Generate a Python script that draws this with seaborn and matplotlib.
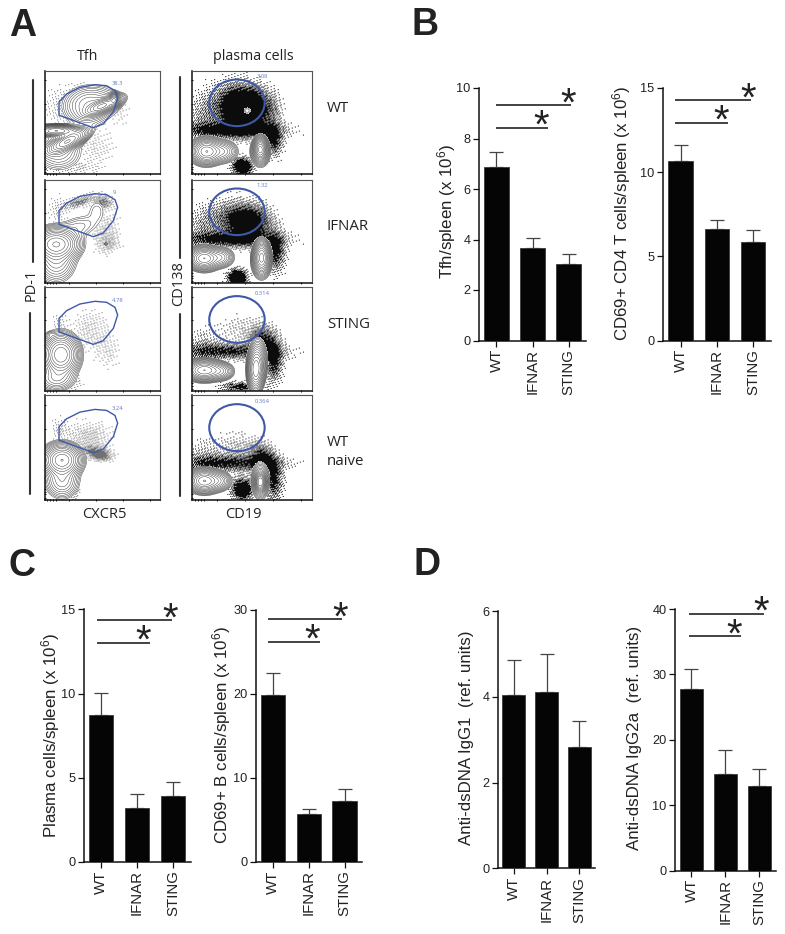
import numpy as np
import matplotlib
matplotlib.use('Agg')
import matplotlib.pyplot as plt
from matplotlib.patches import Ellipse, Polygon
import seaborn as sns

W, H = 785, 934

# bar panels: means and top of the error bar
groups = ['WT', 'IFNAR', 'STING']
tfh_mean = [6.87, 3.65, 3.03]
tfh_top = [7.48, 4.07, 3.41]
cd4_mean = [10.65, 6.63, 5.88]
cd4_top = [11.6, 7.13, 6.55]
plasma_mean = [8.73, 3.2, 3.93]
plasma_top = [10.05, 4.02, 4.72]
cd69b_mean = [19.85, 5.7, 7.3]
cd69b_top = [22.5, 6.3, 8.75]
igg1_mean = [4.05, 4.1, 2.83]
igg1_top = [4.85, 4.99, 3.43]
igg2a_mean = [27.8, 14.8, 13.0]
igg2a_top = [30.9, 18.4, 15.5]

# significance lines: y value of upper and lower line, start x, upper end, lower end
tfh_sig = [9.31, 8.42, 0.0, 2.06, 1.44]
cd4_sig = [14.3, 12.94, -0.15, 1.94, 1.31]
plasma_sig = [14.37, 13.0, -0.12, 1.98, 1.35]
cd69b_sig = [28.9, 26.2, -0.15, 1.94, 1.30]
igg2a_sig = [39.3, 35.8, -0.08, 2.13, 1.47]

# flow panels, in box units, as the picture shows them
# each blob: x, y, spread x, spread y, angle, weight
tfh_wt_c = [(.10, .42, .09, .025, 0, 1), (.20, .32, .09, .035, 30, 1), (.12, .22, .10, .09, 0, .12),
            (.50, .66, .08, .03, 25, 1), (.60, .72, .02, .03, 0, .8), (.36, .65, .10, .09, 0, .15), (.45, .70, .11, .08, 0, .1)]
tfh_wt_d = [(.25, .65, .18, .14, 0, .30), (.45, .25, .11, .11, 0, .2), (.20, .06, .18, .04, 0, .3), (.66, .60, .05, .10, 0, .15)]
tfh_if_c = [(.10, .38, .09, .07, 0, 1), (.10, .22, .08, .10, 0, .2), (.30, .55, .10, .06, 15, .05), (.45, .70, .05, .07, 0, .03),
            (.53, .38, .012, .012, 0, .04)]
tfh_if_d = [(.30, .78, .08, .03, 20, .9), (.50, .78, .05, .04, -20, .9), (.52, .50, .08, .14, 0, .3), (.12, .70, .06, .10, 0, .25), (.55, .38, .06, .06, 0, .3)]
tfh_st_c = [(.14, .35, .07, .09, 0, 1), (.10, .12, .08, .06, 0, .15), (.05, .55, .02, .015, 0, .03)]
tfh_st_d = [(.40, .58, .12, .14, 0, .25), (.55, .35, .07, .10, 0, .18), (.12, .65, .05, .06, 0, .2), (.25, .08, .05, .05, 0, .3)]
tfh_na_c = [(.15, .38, .075, .07, 0, 1), (.15, .18, .07, .08, 0, .2)]
tfh_na_d = [(.38, .60, .13, .10, 0, .35), (.44, .45, .08, .04, -15, .9), (.13, .68, .05, .08, 0, .25), (.25, .12, .03, .06, 0, .9), (.50, .42, .05, .03, 0, .6)]

pc_wt_c = [(.12, .22, .06, .055, 0, 1), (.26, .22, .055, .05, 0, .25), (.57, .24, .025, .05, 0, 1), (.57, .22, .04, .07, 0, .2), (.46, .615, .025, .025, 0, .03)]
pc_wt_d = [(.44, .62, .13, .13, 0, 2.2), (.30, .42, .28, .05, 0, 1.0), (.68, .33, .05, .10, 0, 1.0), (.42, .07, .05, .05, 0, 2),
           (.30, .75, .16, .11, 0, .25), (.10, .55, .09, .13, 0, .35), (.68, .62, .04, .10, 0, .15)]
pc_if_c = [(.10, .24, .06, .05, 0, 1), (.24, .25, .05, .045, 0, .25), (.58, .25, .03, .07, 0, 1), (.58, .22, .04, .08, 0, .2)]
pc_if_d = [(.47, .58, .12, .11, 0, 1.3), (.30, .42, .28, .05, 0, 1.0), (.70, .30, .05, .12, 0, 1.0), (.38, .05, .05, .05, 0, 2),
           (.30, .65, .14, .11, 0, .4), (.10, .55, .09, .11, 0, .3)]
pc_st_c = [(.10, .20, .07, .045, 0, 1), (.24, .19, .05, .04, 0, .25), (.53, .20, .03, .09, 0, .8), (.55, .28, .035, .10, 0, .3)]
pc_st_d = [(.58, .48, .07, .09, 0, .9), (.68, .30, .05, .14, 0, 1.0), (.30, .38, .28, .05, 0, .9), (.40, .04, .10, .03, 0, 1),
           (.40, .60, .13, .10, 0, .18), (.10, .45, .09, .11, 0, .25)]
pc_na_c = [(.10, .18, .06, .05, 0, 1), (.22, .18, .05, .045, 0, .25), (.57, .17, .02, .04, 0, 1.2), (.57, .18, .035, .08, 0, .25)]
pc_na_d = [(.58, .40, .06, .08, 0, .9), (.68, .20, .05, .13, 0, 1.0), (.30, .35, .28, .05, 0, .9), (.42, .10, .06, .07, 0, 1.5),
           (.40, .50, .14, .10, 0, .25), (.10, .42, .09, .11, 0, .25)]

tfh_gate = [(.124, .70), (.124, .57), (.42, .45), (.507, .486), (.594, .604), (.631, .733),
            (.608, .807), (.536, .855), (.435, .865), (.305, .839), (.19, .775)]
tfh_pct = ['38.3', '9', '4.78', '3.24']
pc_pct = ['3.08', '1.32', '0.314', '0.364']
row_names = ['WT', 'IFNAR', 'STING', 'WT\nnaive']
log_ticks = [.02, .05, .075, .10, .21, .44, .68, .91]

sns.set_style('ticks')
plt.rcParams['font.family'] = ['Liberation Sans', 'DejaVu Sans']
plt.rcParams['mathtext.default'] = 'regular'

fig = plt.figure(figsize=(W / 100, H / 100), dpi=100, facecolor='white')


def px_axes(left, top, right, bottom):
    return fig.add_axes([left / W, 1 - bottom / H, (right - left) / W, (bottom - top) / H])


def fig_text(x, y, s, **kw):
    fig.text(x / W, 1 - y / H, s, **kw)


def blob_field(X, Y, blobs):
    total = np.zeros_like(X)
    for cx, cy, sx, sy, ang, wt in blobs:
        t = np.radians(ang)
        u = (X - cx) * np.cos(t) + (Y - cy) * np.sin(t)
        v = -(X - cx) * np.sin(t) + (Y - cy) * np.cos(t)
        total += wt * np.exp(-0.5 * ((u / sx) ** 2 + (v / sy) ** 2))
    return total


def halftone(field):
    # screen the dot density to single pixels, the dot clouds are too thick to read one by one
    rows, cols = np.indices(field.shape)
    screen = (52.9829189 * ((0.06711056 * cols + 0.00583715 * rows) % 1)) % 1
    return field > 0.05 + 0.95 * screen


def flow_panel(left, top, right, bottom, contours, dots, gate, pct, pct_xy, lw_gate, dot_top):
    ax = px_axes(left, top, right, bottom)
    n_x, n_y = int(right - left), int(bottom - top)
    DX, DY = np.meshgrid((np.arange(n_x) + .5) / n_x, (np.arange(n_y) + .5) / n_y)
    ax.imshow(halftone(blob_field(DX, DY, dots)), extent=(0, 1, 0, 1), origin='lower', aspect='auto',
              cmap='gray_r', vmin=0, vmax=dot_top, interpolation='bilinear')
    # contour part sits on white
    gx = np.linspace(0, 1, 300)
    X, Y = np.meshgrid(gx, gx)
    C = blob_field(X, Y, contours)
    ax.contourf(X, Y, C, levels=[.018, 99], colors='white')
    ax.contour(X, Y, C, levels=np.geomspace(.018, 1.0, 14), colors='#222222', linewidths=0.3)
    ax.add_patch(gate)
    gate.set(fill=False, edgecolor='#3f58a8', linewidth=lw_gate, zorder=5)
    ax.text(pct_xy[0], pct_xy[1], pct, color='#5f7cc4', fontsize=4.2, ha='center', va='center', family='Open Sans')
    ax.set_xlim(0, 1)
    ax.set_ylim(0, 1)
    ax.set_xticks(log_ticks)
    ax.set_yticks(log_ticks)
    ax.set_xticklabels([])
    ax.set_yticklabels([])
    ax.tick_params(length=2, width=0.7, direction='inout', color='#111111', pad=0)
    for side in ['top', 'right']:
        ax.spines[side].set_linewidth(0.8)
        ax.spines[side].set_color('#555555')
    for side in ['left', 'bottom']:
        ax.spines[side].set_linewidth(1.1)
        ax.spines[side].set_color('#111111')


def bar_panel(left, top, right, bottom, means, tops, ymax, yticks, label, label_x, label_y, sig=None):
    ax = px_axes(left, top, right, bottom)
    sns.barplot(x=groups, y=means, color='#050505', saturation=1, width=0.68, errorbar=None,
                edgecolor='#3a3a3a', linewidth=0.6, ax=ax, zorder=3)
    errs = np.array(tops) - np.array(means)
    ax.errorbar(range(3), means, yerr=[np.zeros(3), errs], fmt='none', ecolor='#444444',
                elinewidth=0.9, capsize=4.7, capthick=0.9, zorder=2)
    ax.set_xlim(-0.486, 2.486)
    ax.set_ylim(0, ymax)
    ax.set_yticks(yticks)
    ax.tick_params(axis='y', length=4.5, width=0.9, labelsize=9.2, pad=1.5, color='#111111', labelcolor='#222222')
    ax.tick_params(axis='x', length=4, width=0.9, labelsize=10.8, pad=2, color='#111111', labelcolor='#222222')
    for t in ax.get_xticklabels():
        t.set_rotation(90)
    ax.set_ylabel(label, fontsize=12.2, color='#222222', va='center')
    ax.yaxis.set_label_coords((label_x - left) / (right - left), (bottom - label_y) / (bottom - top))
    sns.despine(ax=ax)
    for side in ['left', 'bottom']:
        ax.spines[side].set_linewidth(1.1)
        ax.spines[side].set_color('#111111')
    if sig is not None:
        y_up, y_lo, x0, x_up, x_lo = sig
        ax.plot([x0, x_up], [y_up, y_up], color='#222222', lw=1.2, clip_on=False, solid_capstyle='butt')
        ax.plot([x0, x_lo], [y_lo, y_lo], color='#222222', lw=1.2, clip_on=False, solid_capstyle='butt')
        ax.annotate('*', (x_up, y_up), xytext=(-1.7, 14), textcoords='offset points', fontsize=29, ha='center',
                    va='top', color='#222222', annotation_clip=False)
        ax.annotate('*', (x_lo, y_lo), xytext=(-5, 14.5), textcoords='offset points', fontsize=29, ha='center',
                    va='top', color='#222222', annotation_clip=False)
    return ax


rows = [(70.7, 174.3), (179.7, 283.3), (287.3, 391), (395.3, 499.7)]
tfh_sets = [(tfh_wt_c, tfh_wt_d), (tfh_if_c, tfh_if_d), (tfh_st_c, tfh_st_d), (tfh_na_c, tfh_na_d)]
pc_sets = [(pc_wt_c, pc_wt_d), (pc_if_c, pc_if_d), (pc_st_c, pc_st_d), (pc_na_c, pc_na_d)]
for i, (r_top, r_bot) in enumerate(rows):
    flow_panel(44.7, r_top, 160.3, r_bot, tfh_sets[i][0], tfh_sets[i][1], Polygon(tfh_gate, closed=True),
               tfh_pct[i], (.63 if i != 1 else .6, .875), 1.0, 1.8)
    flow_panel(192.3, r_top, 311.7, r_bot, pc_sets[i][0], pc_sets[i][1], Ellipse((.374, .69), .464, .45),
               pc_pct[i], (.585, .94), 1.5, 1.05)

# panel A labels
side_font = dict(family=['Open Sans', 'DejaVu Sans'], color='#222222')
fig_text(88, 56, 'Tfh', fontsize=10.3, ha='center', va='center', **side_font)
fig_text(253, 56, 'plasma cells', fontsize=10.3, ha='center', va='center', **side_font)
fig_text(104, 514, 'CXCR5', fontsize=10.5, ha='center', va='center', **side_font)
fig_text(243, 514, 'CD19', fontsize=10.5, ha='center', va='center', **side_font)
fig_text(31, 285, 'PD-1', fontsize=10.5, rotation=90, ha='center', va='center', **side_font)
fig_text(179, 284, 'CD138', fontsize=10.5, rotation=90, ha='center', va='center', **side_font)
for name, y in zip(row_names, [108, 226, 324, 452]):
    fig_text(327, y, name, fontsize=10.8, ha='left', va='center', linespacing=1.3, **side_font)
for x, y0, y1 in [(33, 80, 262), (29.5, 313, 494), (180, 77, 258), (180, 314, 496)]:
    fig.add_artist(plt.Line2D([x / W, x / W], [1 - y0 / H, 1 - y1 / H], color='#333333', lw=1.5))

# panel letters
for letter, x, y in [('A', 9, 36), ('B', 412, 35), ('C', 9, 576), ('D', 413, 575)]:
    fig_text(x, y, letter, fontsize=27, fontweight='bold', ha='left', va='baseline', color='#222222')

sup = r' (x 10$^{6}$)'
bar_panel(479, 88, 586, 340.5, tfh_mean, tfh_top, 10, [0, 2, 4, 6, 8, 10], 'Tfh/spleen' + sup, 447, 212, tfh_sig)
bar_panel(663, 88, 770.7, 340.5, cd4_mean, cd4_top, 15, [0, 5, 10, 15], 'CD69+ CD4 T cells/spleen' + sup, 622, 213, cd4_sig)
bar_panel(83.5, 609.3, 190.7, 862, plasma_mean, plasma_top, 15, [0, 5, 10, 15], 'Plasma cells/spleen' + sup, 50.5, 735, plasma_sig)
bar_panel(255.7, 610, 362, 862, cd69b_mean, cd69b_top, 30, [0, 10, 20, 30], 'CD69+ B cells/spleen' + sup, 221.5, 735, cd69b_sig)
bar_panel(497.7, 611, 595.3, 868.3, igg1_mean, igg1_top, 6, [0, 2, 4, 6], 'Anti-dsDNA IgG1  (ref. units)', 467, 738)
bar_panel(675, 609, 775.7, 870.7, igg2a_mean, igg2a_top, 40, [0, 10, 20, 30, 40], 'Anti-dsDNA IgG2a  (ref. units)', 635, 738, igg2a_sig)

fig.savefig('out.png', dpi=100)
